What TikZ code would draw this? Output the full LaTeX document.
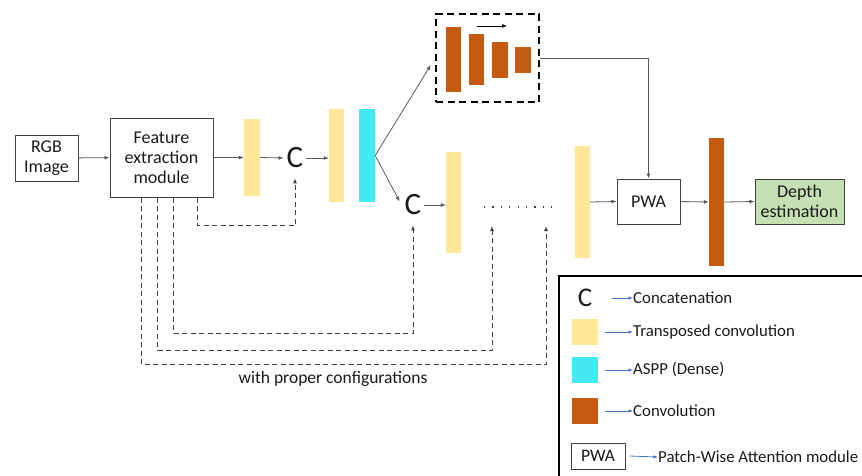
\documentclass[tikz,border=0pt]{standalone}
\usepackage{fontspec}
\setmainfont{Carlito}
\usetikzlibrary{arrows.meta}
\definecolor{ycol}{HTML}{FFE699}
\definecolor{ccol}{HTML}{45E9F1}
\definecolor{ocol}{HTML}{C55A11}
\definecolor{gcol}{HTML}{C5E0B4}
\definecolor{txt}{HTML}{1A1A1A}
\definecolor{linec}{HTML}{595959}
\definecolor{boxc}{HTML}{404040}
\definecolor{legarr}{HTML}{4472C4}
\begin{document}
\begin{tikzpicture}[x=1pt,y=-1pt,
  font=\fontsize{18}{20}\selectfont, text=txt,
  box/.style={draw=boxc, line width=1pt, align=center, inner sep=0},
  bar/.style={inner sep=0, draw=none},
  bigc/.style={inner xsep=3pt, inner ysep=10pt, font=\fontsize{31}{36}\selectfont},
  arr/.style={-{Latex[length=5pt,width=4pt]}, draw=linec, line width=0.8pt},
  darr/.style={-{Latex[length=5pt,width=4pt]}, draw=boxc, line width=1pt, dash pattern=on 5pt off 3.5pt},
  legarrow/.style={-{Latex[length=4.5pt,width=3.5pt]}, draw=legarr, line width=0.8pt},
  legtext/.style={anchor=west, inner sep=0, font=\fontsize{16.8}{20}\selectfont},
  legsq/.style={inner sep=0, minimum width=26pt, minimum height=26pt}
]
\useasboundingbox (0,0) rectangle (862,475);

% main chain
\node[box, minimum width=63pt, minimum height=46pt] (rgb) at (46.5,158) {RGB\\Image};
\node[box, minimum width=103pt, minimum height=79pt] (fe) at (161.5,157.5) {Feature\\extraction\\module};
\node[bar, fill=ycol, minimum width=16pt, minimum height=77pt] (b1) at (252,157.5) {};
\node[bigc] (c1) at (295,158) {C};
\node[bar, fill=ycol, minimum width=15pt, minimum height=93pt] (b2) at (336.5,155.5) {};
\node[bar, fill=ccol, minimum width=16pt, minimum height=93pt] (aspp) at (367,155.5) {};

% dashed box with conv pyramid
\node[draw=black, line width=2.4pt, dash pattern=on 7pt off 4.5pt, minimum width=103pt, minimum height=88pt, inner sep=0] (dbox) at (487.5,58) {};
\node[bar, fill=ocol, minimum width=15pt, minimum height=65pt] (o1) at (453.5,59.5) {};
\node[bar, fill=ocol, minimum width=15pt, minimum height=51pt] (o2) at (476.5,59.5) {};
\node[bar, fill=ocol, minimum width=16pt, minimum height=36pt] (o3) at (500,60) {};
\node[bar, fill=ocol, minimum width=16pt, minimum height=26pt] (o4) at (523,60) {};
\coordinate (sa) at (477,26);
\coordinate (sb) at (507,26);
\draw[arr, draw=black] (sa) -- (sb);

\node[bigc] (c2) at (413,205) {C};
\node[bar, fill=ycol, minimum width=15pt, minimum height=101pt] (b3) at (453.5,202.5) {};
\coordinate (d1) at (484,207);
\coordinate (d2) at (553,207);
\draw[line width=1.3pt, draw=boxc, dash pattern=on 1.2pt off 7.2pt] (d1) -- (d2);
\node[bar, fill=ycol, minimum width=15pt, minimum height=112pt] (b4) at (582.5,202) {};
\node[box, minimum width=63pt, minimum height=45pt] (pwa) at (648.5,201.5) {PWA};
\node[bar, fill=ocol, minimum width=15pt, minimum height=128pt] (conv) at (716.5,202) {};
\node[box, fill=gcol, minimum width=89pt, minimum height=45pt] (depth) at (799.5,201.5) {Depth\\estimation};

% connectors
\draw[arr] (rgb) -- (fe);
\draw[arr] (fe.east) -- (fe.east -| b1.west);
\draw[arr] (b1.east) -- (c1.west);
\draw[arr] (c1.east) -- (c1.east -| b2.west);
\draw[arr] (aspp.east) -- ([xshift=-4pt,yshift=-7pt]dbox.west);
\draw[arr, shorten >=4pt] (aspp.east) -- (c2.west);
\draw[arr] (c2.east) -- (c2.east -| b3.west);
\draw[arr] (dbox.east) -| (pwa.north);
\draw[arr] (b4.east) -- (pwa.west);
\draw[arr] (pwa.east) -- (conv.west);
\draw[arr] (conv.east) -- (depth.west);

% skip connections
\coordinate (t3) at (492,226);
\coordinate (t4) at (546,226);
\draw[darr] ([xshift=-16pt]fe.south east) -- ++(0,28) -| (c1.south);
\draw[darr] ([xshift=-40pt]fe.south east) -- ++(0,136) -| (c2.south);
\draw[darr] ([xshift=48pt]fe.south west) -- ++(0,153) -| (t3);
\draw[darr] ([xshift=32pt]fe.south west) -- ++(0,167) -| (t4);
\node[font=\fontsize{17.5}{20}\selectfont] (cfg) at (333,379) {with proper configurations};

% legend
\draw[draw=black, line width=1.2pt] (559,276) rectangle (880,490);
\node[inner sep=0, font=\fontsize{27}{30}\selectfont] (lc) at (585,298) {C};
\node[legsq, fill=ycol] (ly) at (585,331.5) {};
\node[legsq, fill=ccol] (lcy) at (585,370) {};
\node[legsq, fill=ocol] (lo) at (585,411) {};
\node[box, minimum width=54pt, minimum height=26pt, font=\fontsize{17.5}{20}\selectfont] (lp) at (598,456) {PWA};
\node[legtext] (t1) at (633,298) {Concatenation};
\node[legtext] (t2) at (633,332) {Transposed convolution};
\node[legtext] (t3l) at (633,370) {ASPP (Dense)};
\node[legtext] (t4l) at (633,411) {Convolution};
\node[legtext] (t5) at (658,457) {Patch-Wise Attention module};
\draw[legarrow] ([xshift=20pt]lc.east |- t1.west) -- (t1.west);
\draw[legarrow] ([xshift=7pt]ly.east |- t2.west) -- (t2.west);
\draw[legarrow] ([xshift=7pt]lcy.east |- t3l.west) -- (t3l.west);
\draw[legarrow] ([xshift=7pt]lo.east |- t4l.west) -- (t4l.west);
\draw[legarrow] ([xshift=4pt]lp.east) -- (t5.west);
\end{tikzpicture}
\end{document}
